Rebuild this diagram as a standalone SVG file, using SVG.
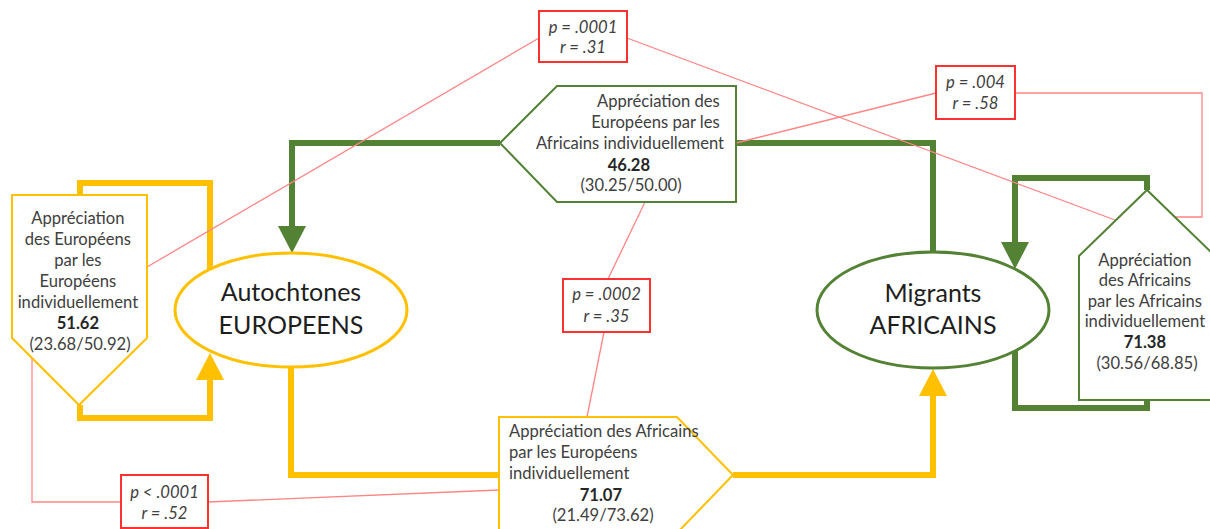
<svg xmlns="http://www.w3.org/2000/svg" width="1210" height="529" viewBox="0 0 1210 529">
<style>
.gold{fill:none;stroke:#FFC000;stroke-width:6}
.green{fill:none;stroke:#548235;stroke-width:6}
.rl{fill:none;stroke:#FF8585;stroke-width:1.3}
.box{fill:#fff;stroke:#FF3030;stroke-width:2}
.pg{fill:#fff;stroke:#FFC000;stroke-width:2}
.pv{fill:#fff;stroke:#548235;stroke-width:2}
.t{font-family:Lato,"Open Sans",sans-serif;font-size:16.6px;fill:#404040}
.b{font-weight:bold;fill:#262626}
.it{font-family:Lato,"Open Sans",sans-serif;font-size:16.6px;font-style:italic;fill:#404040;text-anchor:middle}
.el{font-family:Lato,"Open Sans",sans-serif;font-size:25px;fill:#1e1e1e;text-anchor:middle}
</style>
<defs>
<marker id="ag" markerUnits="userSpaceOnUse" markerWidth="28" markerHeight="28" refX="0" refY="14" orient="auto" overflow="visible"><path d="M0,0 L27,14 L0,28 Z" fill="#FFC000"/></marker>
<marker id="av" markerUnits="userSpaceOnUse" markerWidth="28" markerHeight="28" refX="0" refY="14" orient="auto" overflow="visible"><path d="M0,0 L27,14 L0,28 Z" fill="#548235"/></marker>
</defs>
<rect width="1210" height="529" fill="#fff"/>
<g id="connectors">
<path class="green" d="M500,143 H292 V226" marker-end="url(#av)"/>
<path class="green" d="M736,143 H933 V253"/>
<path class="green" d="M1147,190 V178 H1015 V242" marker-end="url(#av)"/>
<path class="green" d="M1015,351 V408 H1147 V400"/>
<path class="gold" d="M80,195 V183 H210 V270"/>
<path class="gold" d="M80,405 V418 H210 V380" marker-end="url(#ag)"/>
<path class="gold" d="M291,367 V475 H499"/>
<path class="gold" d="M733,475 H933 V396" marker-end="url(#ag)"/>
<path class="rl" d="M147,267 L539,38"/>
<path class="rl" d="M627,38 L1115,220"/>
<path class="rl" d="M736,143 L936,93"/>
<path class="rl" d="M1015,93 H1202 V217 H1175"/>
<path class="rl" d="M645,202 L608,279"/>
<path class="rl" d="M604,332 L587,417"/>
<path class="rl" d="M121,502 H32 V358"/>
<path class="rl" d="M208,502 L499,490"/>
</g>
<g id="node-autochtones">
<ellipse cx="291" cy="310" rx="116" ry="57" fill="#fff" stroke="#FFC000" stroke-width="3"/>
<text class="el" x="291" y="301">Autochtones</text>
<text class="el" x="291" y="334">EUROPEENS</text>
</g>
<g id="node-migrants">
<ellipse cx="933" cy="310" rx="116" ry="58" fill="#fff" stroke="#548235" stroke-width="3"/>
<text class="el" x="933" y="302">Migrants</text>
<text class="el" x="933" y="334">AFRICAINS</text>
</g>
<g id="node-eur-eur">
<path class="pg" d="M12,195 H147 V338 L79,405 L12,338 Z"/>
<text class="t" text-anchor="middle">
<tspan x="80" y="224">Appréciation</tspan>
<tspan x="80" y="245">des Européens</tspan>
<tspan x="80" y="266">par les</tspan>
<tspan x="80" y="287">Européens</tspan>
<tspan x="80" y="308">individuellement</tspan>
<tspan x="80" y="329" class="b">51.62</tspan>
<tspan x="80" y="350">(23.68/50.92)</tspan>
</text>
</g>
<g id="node-eur-afr">
<path class="pv" d="M500,143 L557,86 H736 V202 H557 Z"/>
<text class="t" text-anchor="end">
<tspan x="724" y="107">Appréciation des</tspan>
<tspan x="724" y="128">Européens par les</tspan>
<tspan x="724" y="149">Africains individuellement</tspan>
</text>
<text class="t" text-anchor="middle">
<tspan x="631" y="171" class="b">46.28</tspan>
<tspan x="631" y="191">(30.25/50.00)</tspan>
</text>
</g>
<g id="node-afr-afr">
<path class="pv" d="M1079,400 V256 L1147,190 L1215,256 V400 Z"/>
<text class="t" text-anchor="middle">
<tspan x="1147" y="266">Appréciation</tspan>
<tspan x="1147" y="286">des Africains</tspan>
<tspan x="1147" y="307">par les Africains</tspan>
<tspan x="1147" y="327">individuellement</tspan>
<tspan x="1147" y="348" class="b">71.38</tspan>
<tspan x="1147" y="369">(30.56/68.85)</tspan>
</text>
</g>
<g id="node-afr-eur">
<path class="pg" d="M499,540 V417 H677 L733,475 L677,533 V540"/>
<text class="t">
<tspan x="509" y="437">Appréciation des Africains</tspan>
<tspan x="509" y="458">par les Européens</tspan>
<tspan x="509" y="479">individuellement</tspan>
</text>
<text class="t" text-anchor="middle">
<tspan x="603" y="501" class="b">71.07</tspan>
<tspan x="603" y="521">(21.49/73.62)</tspan>
</text>
</g>
<g id="stat-1">
<rect class="box" x="539" y="11" width="88" height="51"/>
<text class="it"><tspan x="583" y="33">p = .0001</tspan><tspan x="583" y="53">r = .31</tspan></text>
</g>
<g id="stat-2">
<rect class="box" x="936" y="66" width="79" height="53"/>
<text class="it"><tspan x="975.5" y="88">p = .004</tspan><tspan x="975.5" y="109">r = .58</tspan></text>
</g>
<g id="stat-3">
<rect class="box" x="563" y="279" width="87" height="53"/>
<text class="it"><tspan x="606.5" y="300">p = .0002</tspan><tspan x="606.5" y="322">r = .35</tspan></text>
</g>
<g id="stat-4">
<rect class="box" x="121" y="475" width="87" height="53"/>
<text class="it"><tspan x="164.5" y="498">p &lt; .0001</tspan><tspan x="164.5" y="519">r = .52</tspan></text>
</g>
</svg>
